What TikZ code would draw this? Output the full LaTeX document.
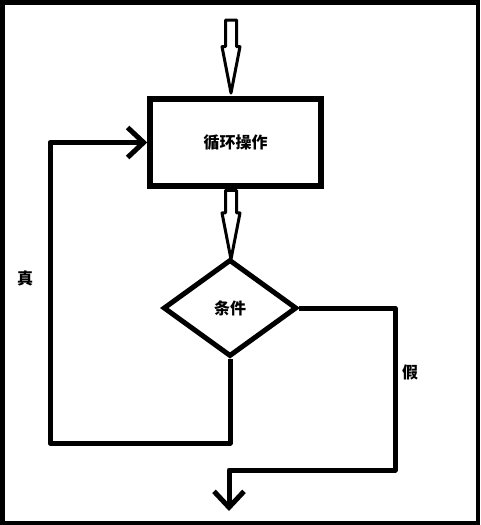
\documentclass[tikz,border=0pt]{standalone}
\usepackage{fontspec}
\newfontfamily\cjkfont{Noto Sans CJK SC}
\usetikzlibrary{arrows.meta, shapes.geometric, shapes.arrows}

\begin{document}
\begin{tikzpicture}[x=1pt, y=-1pt,
    every node/.style={font=\cjkfont\bfseries\fontsize{16}{19}\selectfont},
    flow/.style={line width=5pt, line join=round},
    barb/.style={-{Straight Barb[length=16pt, width=30pt]}},
    hollow/.style={single arrow, draw, line width=3pt, line join=round, inner sep=4pt,
        single arrow head extend=3.5pt, single arrow tip angle=22, shape border rotate=270}]
    \useasboundingbox (0,0) rectangle (480,525);
    \draw[line width=4.5pt] (2.25,2.25) rectangle (477.75,522.75);

    \node[draw, line width=5.5pt, minimum width=171pt, minimum height=87pt] (op) at (235.5,142.5) {循环操作};
    \node[draw, diamond, line width=5pt, minimum width=133.5pt, minimum height=97pt, inner sep=0pt] (cond) at (230,308) {条件};

    % hollow arrows
    \coordinate (in) at (231,18.5);
    \node[hollow, anchor=tail, minimum height=73pt] (a1) at (in) {};
    \node[hollow, anchor=tail, minimum height=69pt] (a2) at (op.south -| in) {};

    % true: back to the loop
    \coordinate (lb) at (50,443);
    \draw[flow, barb] (cond.south) |- (lb) |- (op.west);
    \node (yes) at (25,278) {真};

    % false: leave
    \coordinate (fr) at (395,470);
    \coordinate (out) at (229,511);
    \draw[flow, barb] (cond.east) -| (fr) -| (out);
    \node (no) at (410,372) {假};
\end{tikzpicture}
\end{document}
